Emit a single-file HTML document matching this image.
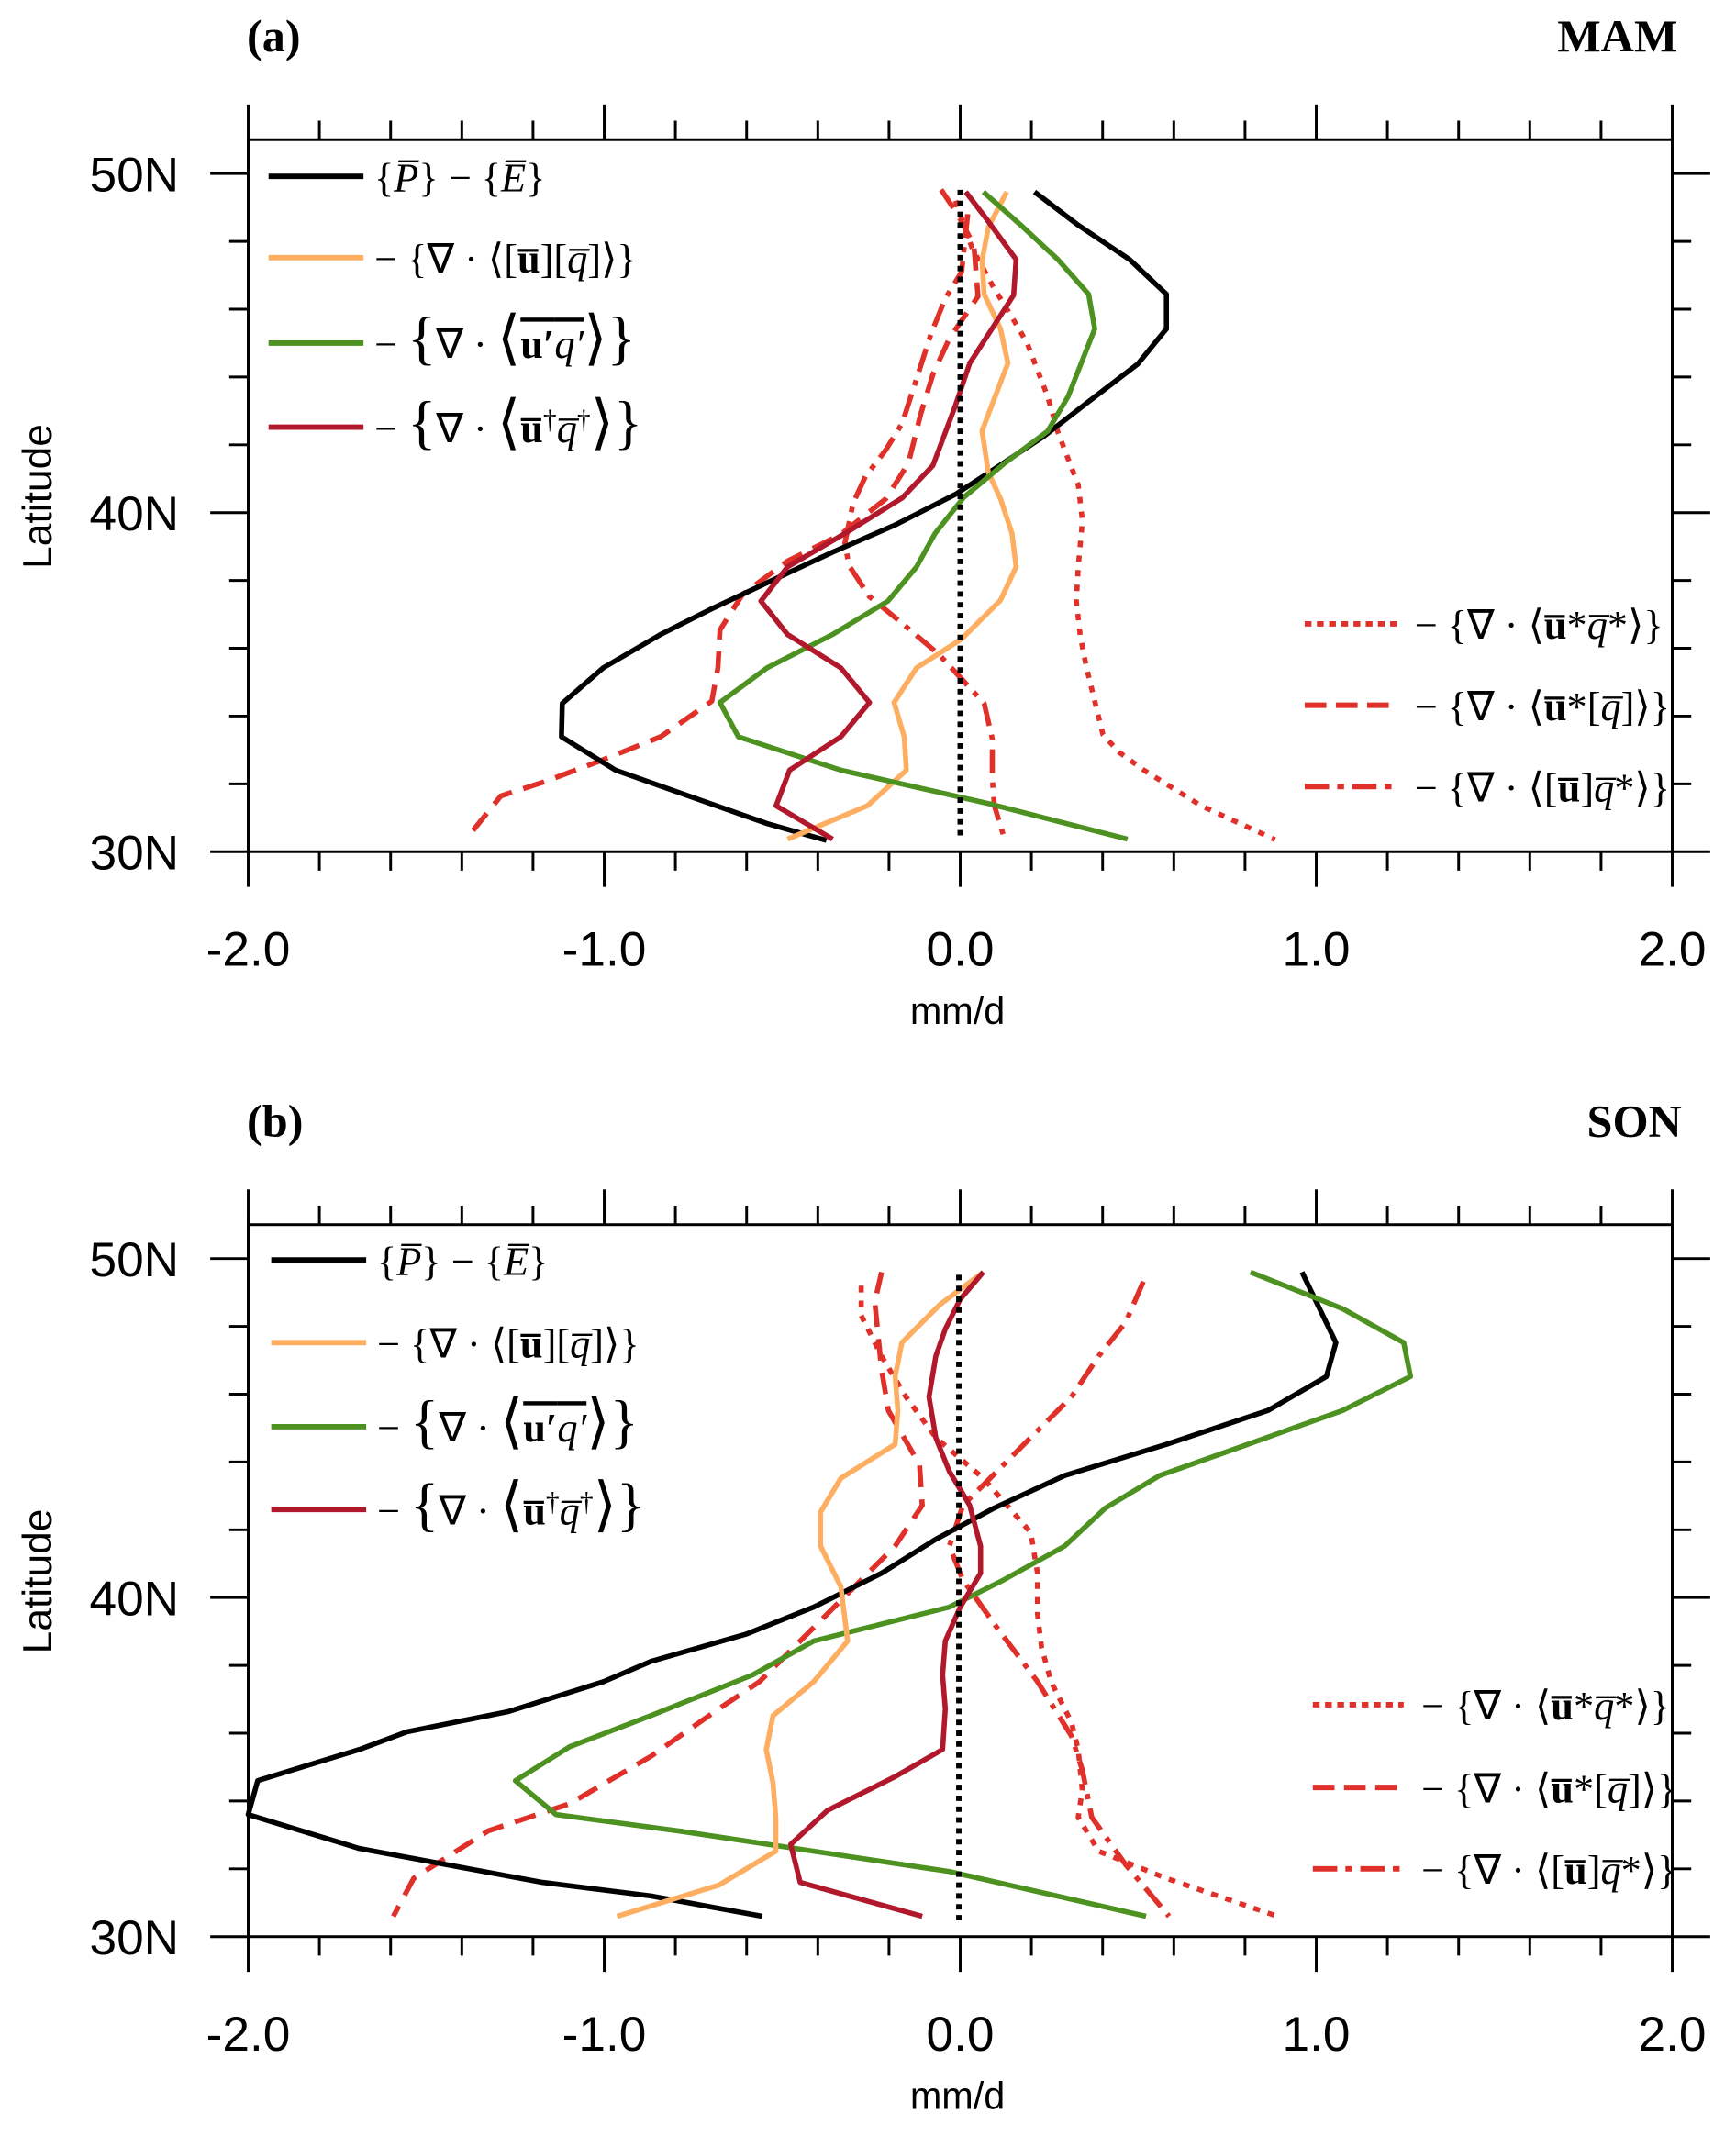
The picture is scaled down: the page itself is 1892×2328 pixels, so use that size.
<!DOCTYPE html>
<html><head><meta charset="utf-8"><style>
html,body{margin:0;padding:0;background:#fff}
svg{display:block}
.ax{stroke:#000;stroke-width:2;fill:none}
.tl{font-family:"Liberation Sans",sans-serif;font-size:36px;fill:#000}
.lg{font-family:"Liberation Serif",serif;font-size:30px;fill:#000}
.c{fill:none;stroke-width:3.8;stroke-linejoin:round}
.ca{fill:none;stroke-width:5.6;stroke-linejoin:round}
</style></head><body>
<svg width="1892" height="2328" viewBox="0 0 1280 1575" xmlns="http://www.w3.org/2000/svg">
<defs>
<g id="frame">
  <rect x="183" y="103" width="1050" height="525" class="ax"/>
  <line x1="183" y1="77" x2="183" y2="654" class="ax"/>
  <line x1="1233" y1="77" x2="1233" y2="654" class="ax"/>
  <line x1="445.5" y1="77" x2="445.5" y2="103" class="ax"/><line x1="708" y1="77" x2="708" y2="103" class="ax"/><line x1="970.5" y1="77" x2="970.5" y2="103" class="ax"/>
  <line x1="445.5" y1="628" x2="445.5" y2="654" class="ax"/><line x1="708" y1="628" x2="708" y2="654" class="ax"/><line x1="970.5" y1="628" x2="970.5" y2="654" class="ax"/>
  <path class="ax" d="M235.5 103v-14M288 103v-14M340.5 103v-14M393 103v-14M498 103v-14M550.5 103v-14M603 103v-14M655.5 103v-14M760.5 103v-14M813 103v-14M865.5 103v-14M918 103v-14M1023 103v-14M1075.5 103v-14M1128 103v-14M1180.5 103v-14
  M235.5 628v14M288 628v14M340.5 628v14M393 628v14M498 628v14M550.5 628v14M603 628v14M655.5 628v14M760.5 628v14M813 628v14M865.5 628v14M918 628v14M1023 628v14M1075.5 628v14M1128 628v14M1180.5 628v14"/>
  <path class="ax" d="M155 128h28M155 378h28M155 628h28M1233 128h28M1233 378h28M1233 628h28
  M169 178h14M169 228h14M169 278h14M169 328h14M169 428h14M169 478h14M169 528h14M169 578h14
  M1233 178h14M1233 228h14M1233 278h14M1233 328h14M1233 428h14M1233 478h14M1233 528h14M1233 578h14"/>
  <text class="tl" x="132" y="141" text-anchor="end">50N</text>
  <text class="tl" x="132" y="391" text-anchor="end">40N</text>
  <text class="tl" x="132" y="641" text-anchor="end">30N</text>
  <text class="tl" x="183" y="712" text-anchor="middle">-2.0</text>
  <text class="tl" x="445.5" y="712" text-anchor="middle">-1.0</text>
  <text class="tl" x="708" y="712" text-anchor="middle">0.0</text>
  <text class="tl" x="970.5" y="712" text-anchor="middle">1.0</text>
  <text class="tl" x="1233" y="712" text-anchor="middle">2.0</text>
  <text class="tl" x="706" y="755" text-anchor="middle" style="font-size:28px">mm/d</text>
  <text class="tl" transform="translate(38,366) rotate(-90)" text-anchor="middle" style="font-size:30px">Latitude</text>
</g>
</defs>

<!-- Panel a -->
<use href="#frame"/>
<text x="182" y="38" style="font-family:'Liberation Serif',serif;font-weight:bold;font-size:34px">(a)</text>
<text x="1237" y="38" text-anchor="end" style="font-family:'Liberation Serif',serif;font-weight:bold;font-size:34px">MAM</text>

<g transform="matrix(0.302,0,0,0.328,402.5,121.8)">
<polyline class="ca" vector-effect="non-scaling-stroke" stroke="#e0302a" stroke-dasharray="7,9" points="1000,80 1040,185 1090,270 1140,345 1175,400 1225,520 1250,600 1300,720 1310,800 1300,900 1295,980 1305,1060 1320,1130 1360,1280 1400,1320 1460,1360 1530,1400 1600,1440 1780,1516"/>
<polyline class="ca" vector-effect="non-scaling-stroke" stroke="#e0302a" stroke-dasharray="24,13" points="965,55 1005,110 1045,180 1055,295 985,390 945,470 915,560 885,670 830,750 720,830 590,890 480,965 425,1045 420,1130 405,1205 280,1285 130,1340 0,1385 -110,1418 -180,1498"/>
<polyline class="ca" vector-effect="non-scaling-stroke" stroke="#e0302a" stroke-dasharray="26,10,6,10" points="1030,110 1015,240 975,300 940,380 905,480 870,580 830,640 780,700 750,760 730,850 740,900 790,970 870,1030 960,1100 1030,1170 1070,1210 1090,1290 1090,1380 1095,1440 1120,1515"/>
<polyline class="ca" vector-effect="non-scaling-stroke" stroke="#000" points="1193,60 1300,135 1425,212 1515,290 1515,368 1445,447 1330,528 1215,610 1100,680 1000,740 850,810 700,870 560,930 410,995 280,1055 140,1130 40,1210 38,1285 170,1360 370,1425 540,1480 685,1518"/>
<polyline class="ca" vector-effect="non-scaling-stroke" stroke="#fdae61" points="1125,60 1080,140 1065,215 1070,290 1110,368 1128,445 1065,597 1080,690 1110,750 1138,828 1148,903 1110,978 1015,1065 905,1130 850,1208 875,1285 880,1360 785,1440 590,1515"/>
<polyline class="ca" vector-effect="non-scaling-stroke" stroke="#4d9221" points="1068,60 1160,135 1250,212 1325,290 1340,368 1275,520 1225,598 1120,670 1020,747 950,828 905,903 835,980 700,1055 540,1130 425,1208 470,1285 720,1360 1080,1435 1420,1515"/>
<polyline class="ca" vector-effect="non-scaling-stroke" stroke="#b2182b" points="1025,60 1075,120 1148,212 1142,292 1110,338 1035,445 1000,540 945,675 870,748 730,828 590,903 525,980 590,1055 720,1130 790,1208 720,1285 595,1360 562,1440 700,1515"/>
</g>
<line x1="708" y1="140" x2="708" y2="620" stroke="#000" stroke-width="4" stroke-dasharray="4,4"/>

<g class="lg">
<line x1="198" y1="130" x2="268" y2="130" stroke="#000" stroke-width="4"/>
<text x="276" y="141">{<tspan font-style="italic">P̅</tspan>} − {<tspan font-style="italic">E̅</tspan>}</text>
<line x1="198" y1="190" x2="268" y2="190" stroke="#fdae61" stroke-width="4"/>
<text x="276" y="201">− {∇ · ⟨[<tspan font-weight="bold">u̅</tspan>][<tspan font-style="italic">q̅</tspan>]⟩}</text>
<line x1="198" y1="253" x2="268" y2="253" stroke="#4d9221" stroke-width="4"/>
<text x="276" y="264">− <tspan font-size="44">{</tspan>∇ · <tspan font-size="44">⟨</tspan><tspan font-weight="bold" text-decoration="overline">u′</tspan><tspan font-style="italic" text-decoration="overline">q′</tspan><tspan font-size="44">⟩}</tspan></text>
<line x1="198" y1="315" x2="268" y2="315" stroke="#b2182b" stroke-width="4"/>
<text x="276" y="326">− <tspan font-size="44">{</tspan>∇ · <tspan font-size="44">⟨</tspan><tspan font-weight="bold">u̅</tspan><tspan font-size="20" dy="-10">†</tspan><tspan font-style="italic" dy="10">q̅</tspan><tspan font-size="20" dy="-10">†</tspan><tspan font-size="44" dy="10">⟩}</tspan></text>
<line x1="962" y1="460" x2="1030" y2="460" stroke="#e0302a" stroke-width="4" stroke-dasharray="5,4"/>
<text x="1043" y="471">− {∇ · ⟨<tspan font-weight="bold">u̅</tspan>*<tspan font-style="italic">q̅</tspan>*⟩}</text>
<line x1="962" y1="520" x2="1030" y2="520" stroke="#e0302a" stroke-width="4" stroke-dasharray="16,7"/>
<text x="1043" y="531">− {∇ · ⟨<tspan font-weight="bold">u̅</tspan>*[<tspan font-style="italic">q̅</tspan>]⟩}</text>
<line x1="962" y1="580" x2="1030" y2="580" stroke="#e0302a" stroke-width="4" stroke-dasharray="18,6,5,6"/>
<text x="1043" y="591">− {∇ · ⟨[<tspan font-weight="bold">u̅</tspan>]<tspan font-style="italic">q̅</tspan>*⟩}</text>
</g>

<!-- Panel b -->
<use href="#frame" transform="translate(0,800)"/>
<text x="182" y="838" style="font-family:'Liberation Serif',serif;font-weight:bold;font-size:34px">(b)</text>
<text x="1240" y="838" text-anchor="end" style="font-family:'Liberation Serif',serif;font-weight:bold;font-size:34px">SON</text>

<polyline class="c" stroke="#e0302a" stroke-dasharray="5,6" points="635,948 635,970 650,1000 668,1030 690,1060 725,1090 760,1130 765,1160 765,1190 768,1215 775,1240 790,1270 795,1290 798,1320 795,1340 810,1365 860,1385 942,1413"/>
<polyline class="c" stroke="#e0302a" stroke-dasharray="16,9" points="650,938 645,960 650,1010 655,1040 678,1080 680,1110 660,1140 620,1180 590,1210 560,1240 530,1260 480,1295 420,1330 360,1350 305,1385 290,1413"/>
<polyline class="c" stroke="#e0302a" stroke-dasharray="18,7,4,7" points="843,945 830,975 810,1000 790,1030 760,1060 730,1090 710,1110 700,1140 710,1165 735,1200 765,1240 790,1280 798,1305 805,1340 830,1375 862,1413"/>
<polyline class="c" stroke="#000" points="960,938 985,990 978,1015 935,1040 860,1065 785,1088 733,1112 690,1135 650,1160 600,1185 550,1205 480,1225 445,1240 375,1262 300,1277 265,1290 190,1313 183,1338 265,1363 400,1388 480,1398 562,1413"/>
<polyline class="c" stroke="#4d9221" points="922,938 990,965 1035,990 1040,1015 990,1040 920,1065 855,1088 815,1112 785,1140 740,1165 700,1185 600,1210 555,1235 480,1265 420,1288 380,1313 410,1338 500,1350 600,1365 700,1380 845,1413"/>
<polyline class="c" stroke="#fdae61" points="725,938 693,962 665,990 660,1015 662,1040 660,1065 620,1090 605,1115 605,1140 620,1170 625,1210 600,1240 570,1265 565,1290 570,1315 572,1340 572,1365 530,1390 455,1413"/>
<polyline class="c" stroke="#b2182b" points="725,938 708,958 697,980 690,1000 685,1030 690,1060 700,1085 715,1110 723,1140 723,1160 708,1185 697,1210 695,1235 697,1260 695,1290 660,1310 610,1335 583,1360 590,1388 680,1413"/>
<line x1="707" y1="940" x2="707" y2="1420" stroke="#000" stroke-width="4" stroke-dasharray="4,4"/>

<g class="lg">
<line x1="200" y1="929" x2="270" y2="929" stroke="#000" stroke-width="4"/>
<text x="278" y="940">{<tspan font-style="italic">P̅</tspan>} − {<tspan font-style="italic">E̅</tspan>}</text>
<line x1="200" y1="990" x2="270" y2="990" stroke="#fdae61" stroke-width="4"/>
<text x="278" y="1001">− {∇ · ⟨[<tspan font-weight="bold">u̅</tspan>][<tspan font-style="italic">q̅</tspan>]⟩}</text>
<line x1="200" y1="1052" x2="270" y2="1052" stroke="#4d9221" stroke-width="4"/>
<text x="278" y="1063">− <tspan font-size="44">{</tspan>∇ · <tspan font-size="44">⟨</tspan><tspan font-weight="bold" text-decoration="overline">u′</tspan><tspan font-style="italic" text-decoration="overline">q′</tspan><tspan font-size="44">⟩}</tspan></text>
<line x1="200" y1="1113" x2="270" y2="1113" stroke="#b2182b" stroke-width="4"/>
<text x="278" y="1124">− <tspan font-size="44">{</tspan>∇ · <tspan font-size="44">⟨</tspan><tspan font-weight="bold">u̅</tspan><tspan font-size="20" dy="-10">†</tspan><tspan font-style="italic" dy="10">q̅</tspan><tspan font-size="20" dy="-10">†</tspan><tspan font-size="44" dy="10">⟩}</tspan></text>
<line x1="968" y1="1257" x2="1035" y2="1257" stroke="#e0302a" stroke-width="4" stroke-dasharray="5,4"/>
<text x="1048" y="1268">− {∇ · ⟨<tspan font-weight="bold">u̅</tspan>*<tspan font-style="italic">q̅</tspan>*⟩}</text>
<line x1="968" y1="1318" x2="1035" y2="1318" stroke="#e0302a" stroke-width="4" stroke-dasharray="16,7"/>
<text x="1048" y="1329">− {∇ · ⟨<tspan font-weight="bold">u̅</tspan>*[<tspan font-style="italic">q̅</tspan>]⟩}</text>
<line x1="968" y1="1378" x2="1035" y2="1378" stroke="#e0302a" stroke-width="4" stroke-dasharray="18,6,5,6"/>
<text x="1048" y="1389">− {∇ · ⟨[<tspan font-weight="bold">u̅</tspan>]<tspan font-style="italic">q̅</tspan>*⟩}</text>
</g>
</svg>
</body></html>
